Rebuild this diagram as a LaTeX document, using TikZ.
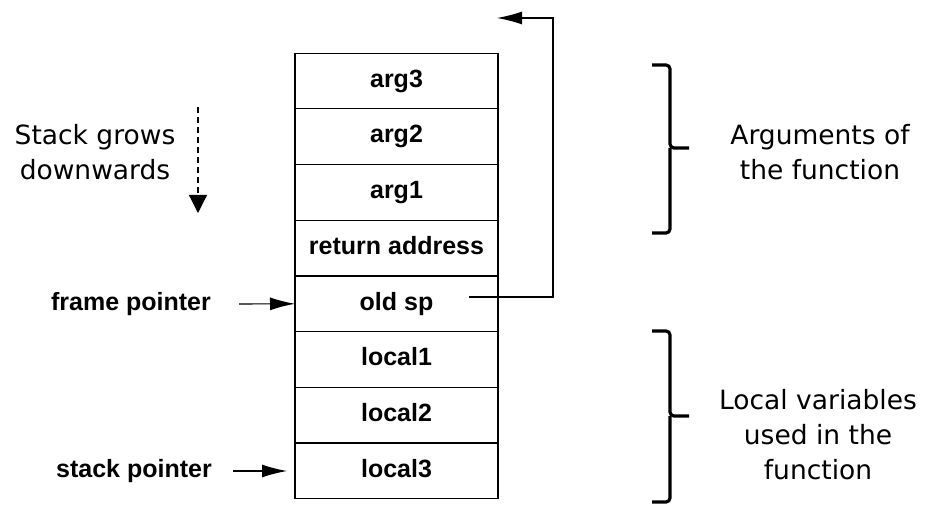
\documentclass[tikz,border=0pt]{standalone}
\usepackage{fontspec}
\setmainfont{Liberation Sans}
\newfontfamily\handfont{DejaVu Sans}
\usetikzlibrary{positioning,arrows.meta}

\begin{document}
\begin{tikzpicture}[x=1pt, y=-1pt,
  slot/.style={draw, rectangle, line width=1.2pt, minimum width=203pt, minimum height=55.7pt, inner sep=0pt, outer sep=0pt, text height=18pt, text depth=5.5pt, font=\fontsize{25}{30}\selectfont\bfseries},
  ptrlabel/.style={inner sep=0pt, font=\fontsize{25}{30}\selectfont\bfseries},
  note/.style={align=center, inner sep=0pt, font=\fontsize{26.5}{35}\selectfont\handfont},
  ptr/.style={-{Latex[length=25pt,width=13pt]}, line width=1.2pt},
  bracket/.style={line width=3.2pt, rounded corners=4pt}
]
\useasboundingbox (0,0) rectangle (934,518);

% Stack frame
\node[slot] (arg3) at (396.5,81) {arg3};
\node[slot, below=0pt of arg3] (arg2) {arg2};
\node[slot, below=0pt of arg2] (arg1) {arg1};
\node[slot, below=0pt of arg1] (ret) {return address};
\node[slot, below=0pt of ret] (old) {old sp};
\node[slot, below=0pt of old] (loc1) {local1};
\node[slot, below=0pt of loc1] (loc2) {local2};
\node[slot, below=0pt of loc2] (loc3) {local3};

% Pointers
\node[ptrlabel] (fptr) at (131,304) {frame pointer};
\node[ptrlabel] (sptr) at (134,471) {stack pointer};
\draw[ptr, shorten <=28pt] (fptr.east) -- (old.west);
\draw[ptr, shorten <=21pt, shorten >=8pt] (sptr.east) -- (sptr.east -| loc3.west);

% Saved stack pointer
\coordinate (spout) at (469,297);
\coordinate (turn) at (553,18);
\coordinate (spin) at (497,18);
\draw[ptr] (spout) -| (turn) -- (spin);

% Growth direction
\node[note] (grow) at (95,152) {Stack grows\\downwards};
\coordinate (growtop) at (198,107);
\coordinate (growend) at (198,213);
\draw[line width=1.2pt, dash pattern=on 6pt off 4pt, -{Triangle[length=18pt,width=18pt]}] (growtop) -- (growend);

% Brackets
\draw[bracket] (652,65) -| (670,148) -- (689,148);
\draw[bracket] (670,148) |- (652,233);
\node[note] (args) at (820,152) {Arguments of\\the function};

\draw[bracket] (652,331) -| (670,416) -- (689,416);
\draw[bracket] (670,416) |- (652,502);
\node[note] (locals) at (818,435) {Local variables\\used in the\\function};

\end{tikzpicture}
\end{document}
